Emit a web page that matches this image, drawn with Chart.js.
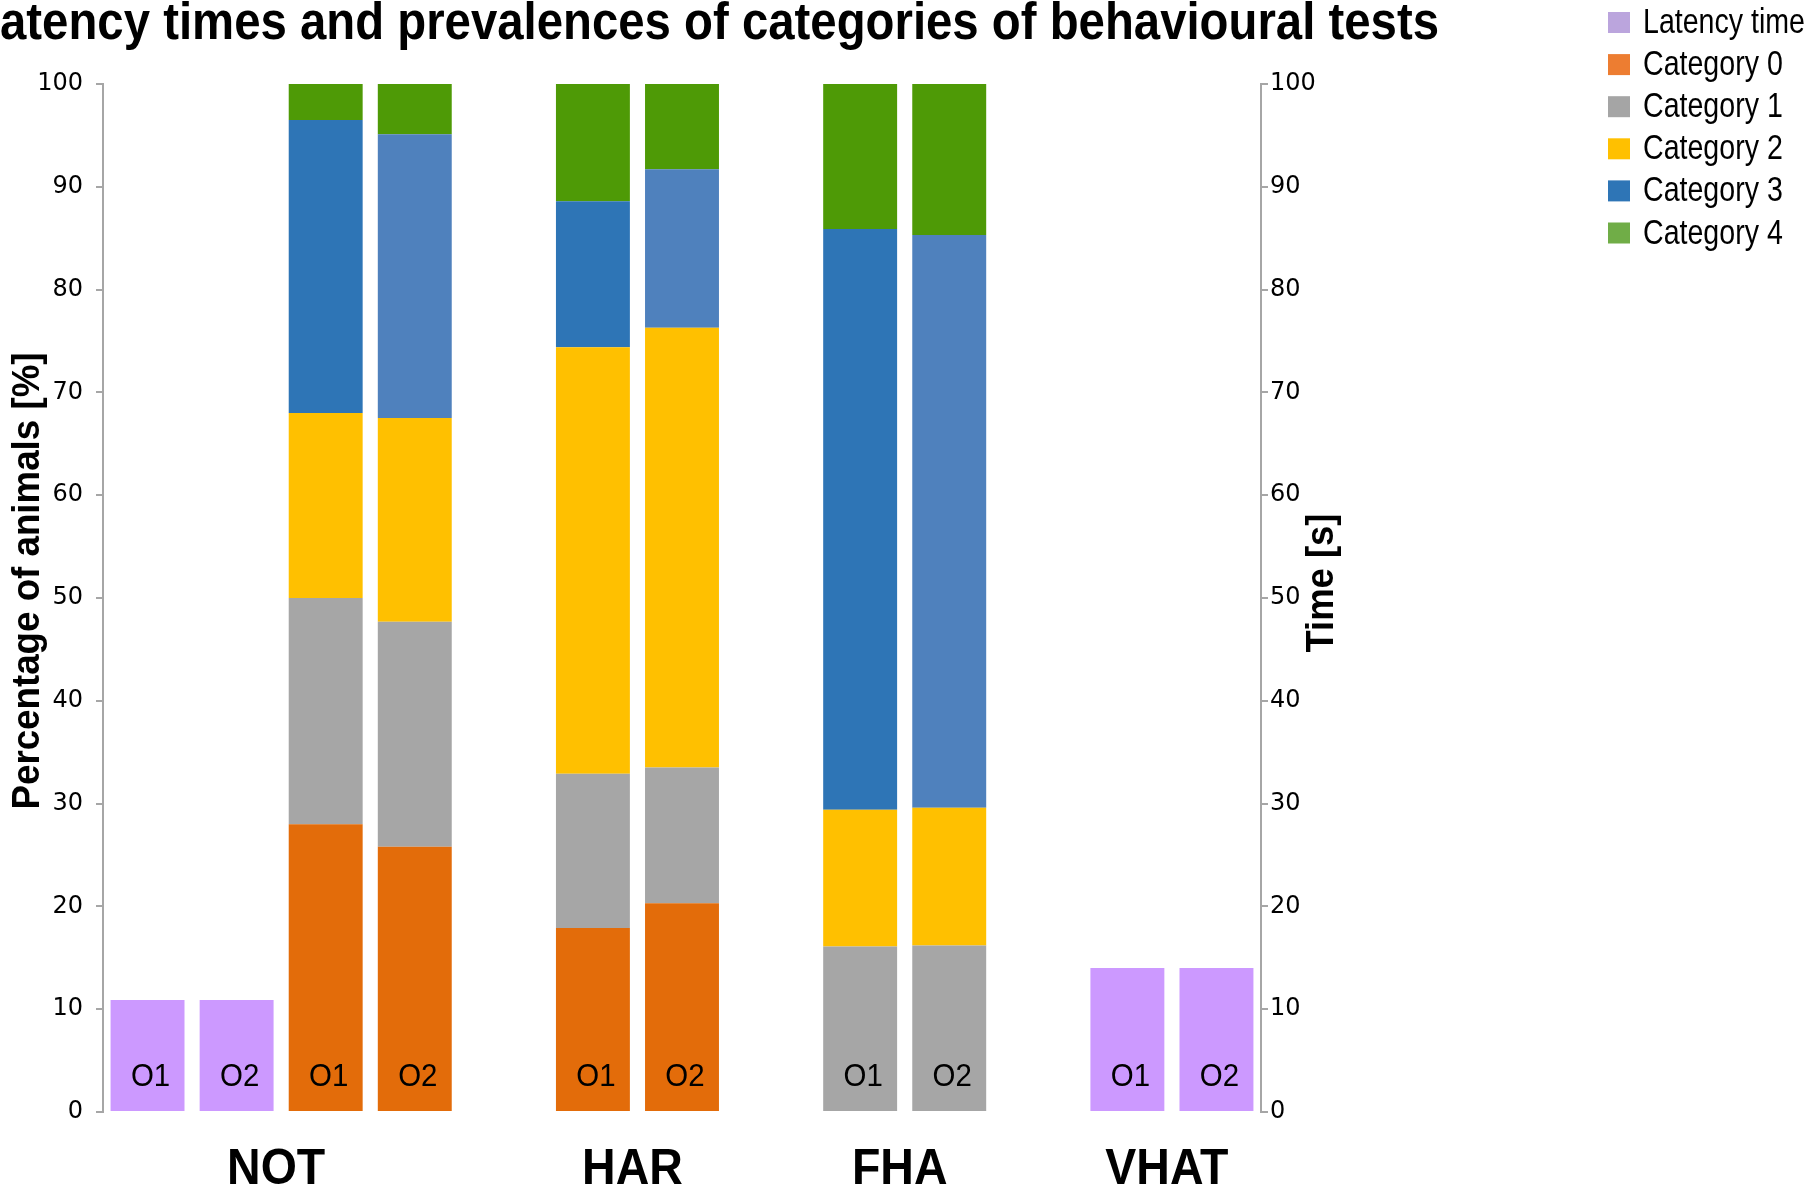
<!DOCTYPE html>
<html>
<head>
<meta charset="utf-8">
<script src="https://cdn.jsdelivr.net/npm/chart.js@4"></script>
<style>
    html, body { margin: 0; padding: 0; background: #fff; }
    #wrap { width: 1812px; height: 1187px; position: relative; }
</style>
</head>
<body>
<div id="wrap"><canvas id="chart"></canvas></div>
<script>
/* global Chart */
const slotLabels = ['O1', 'O2', 'O1', 'O2', '', 'O1', 'O2', '', 'O1', 'O2', '', 'O1', 'O2'];

const groups = ['NOT', 'HAR', 'FHA', 'VHAT'];
const groupFirst = [0, 5, 8, 11];
const groupLast = [3, 6, 9, 12];

// latency time [s] (right axis)
const latency = [10.9, 10.9, null, null, null, null, null, null, null, null, null, 14.0, 14.0];

// percentage of animals per category (left axis)
const cat0 = [null, null, 28.0, 25.8, null, 17.9, 20.3, null, 0, 0, null, null, null];
const cat1 = [null, null, 22.0, 21.9, null, 15.0, 13.2, null, 16.1, 16.2, null, null, null];
const cat2 = [null, null, 18.0, 19.8, null, 41.5, 42.8, null, 13.3, 13.4, null, null, null];
const cat3 = [null, null, 28.5, 27.6, null, 14.2, 15.4, null, 56.5, 55.7, null, null, null];
const cat4 = [null, null, 3.5, 4.9, null, 11.4, 8.3, null, 14.1, 14.7, null, null, null];

const legendNames = ['Latency time', 'Category 0', 'Category 1', 'Category 2', 'Category 3', 'Category 4'];
const legendColors = ['#BBA5DD', '#ED7D31', '#A5A5A5', '#FFC000', '#2E75B6', '#70AD47'];

const FONT = '"Liberation Sans", Arial, sans-serif';
const TICK_FONT = '"DejaVu Sans", sans-serif';

const cat3Colors = slotLabels.map(l => (l === 'O1' ? '#2E75B6' : '#4F81BD'));

// draw text squeezed horizontally by factor sx
function squeezed(ctx, text, x, y, sx) {
    ctx.save();
    ctx.translate(x, y);
    ctx.scale(sx, 1);
    ctx.fillText(text, 0, 0);
    ctx.restore();
}

const decorations = {
    id: 'decorations',
    afterDatasetsDraw(chart) {
        const ctx = chart.ctx;
        const x = chart.scales.x;

        // O1 / O2 labels inside the bars
        ctx.save();
        ctx.fillStyle = '#000';
        ctx.font = '32px ' + FONT;
        ctx.textAlign = 'center';
        ctx.textBaseline = 'middle';
        slotLabels.forEach((l, i) => {
            if (l) squeezed(ctx, l, x.getPixelForValue(i) + 3, 1077, 0.92);
        });

        // group names under the axis
        ctx.font = 'bold 50px ' + FONT;
        ctx.textBaseline = 'alphabetic';
        groups.forEach((g, k) => {
            const cx = (x.getPixelForValue(groupFirst[k]) + x.getPixelForValue(groupLast[k])) / 2 - 5;
            squeezed(ctx, g, cx, 1184, 0.93);
        });
        ctx.restore();
    },
    afterDraw(chart) {
        const ctx = chart.ctx;
        ctx.save();
        ctx.fillStyle = '#000';

        // title, cut off at the left edge
        const full = 'Latency times and prevalences of categories of behavioural tests';
        ctx.font = 'bold 51px ' + FONT;
        ctx.textAlign = 'right';
        const sx = 1439 / ctx.measureText(full.slice(1)).width;
        squeezed(ctx, full, 1439, 39, sx);

        // axis titles
        ctx.font = 'bold 38px ' + FONT;
        ctx.textAlign = 'center';
        ctx.textBaseline = 'middle';
        ctx.save();
        ctx.translate(29, 581);
        ctx.rotate(-Math.PI / 2);
        ctx.scale(457 / ctx.measureText('Percentage of animals [%]').width, 1);
        ctx.fillText('Percentage of animals [%]', 0, 0);
        ctx.restore();
        ctx.save();
        ctx.translate(1323, 583);
        ctx.rotate(-Math.PI / 2);
        ctx.scale(139 / ctx.measureText('Time [s]').width, 1);
        ctx.fillText('Time [s]', 0, 0);
        ctx.restore();

        // legend
        ctx.font = '35px ' + FONT;
        ctx.textAlign = 'left';
        ctx.textBaseline = 'alphabetic';
        const lx = 162 / ctx.measureText('Latency time').width;
        legendNames.forEach((name, i) => {
            const base = 33 + 42.1 * i;
            ctx.fillStyle = legendColors[i];
            ctx.fillRect(1608, base - 21, 22, 21);
            ctx.fillStyle = '#000';
            squeezed(ctx, name, 1643, base, lx);
        });
        ctx.restore();
    }
};

function bar(label, data, color, axis) {
    return {
        label: label,
        data: data,
        backgroundColor: color,
        borderWidth: 0,
        yAxisID: axis,
        barPercentage: 0.83,
        categoryPercentage: 1.0
    };
}

new Chart(document.getElementById('chart'), {
    type: 'bar',
    data: {
        labels: slotLabels,
        datasets: [
            bar('Latency time', latency, '#CC99FF', 'y1'),
            bar('Category 0', cat0, '#E36C0A', 'y'),
            bar('Category 1', cat1, '#A6A6A6', 'y'),
            bar('Category 2', cat2, '#FFC000', 'y'),
            bar('Category 3', cat3, cat3Colors, 'y'),
            bar('Category 4', cat4, '#4E9A06', 'y')
        ]
    },
    options: {
        responsive: true,
        maintainAspectRatio: false,
        animation: false,
        layout: { padding: { top: 84, left: 0, right: 0, bottom: 0 } },
        plugins: {
            legend: { display: false },
            title: { display: false },
            tooltip: { enabled: false }
        },
        scales: {
            x: {
                stacked: true,
                grid: { display: false },
                border: { display: false },
                ticks: { display: false },
                afterFit(scale) { scale.height = 75; }
            },
            y: {
                position: 'left',
                stacked: true,
                min: 0,
                max: 100,
                ticks: {
                    stepSize: 10,
                    color: '#000',
                    padding: 13,
                    font: { family: TICK_FONT, size: 24 }
                },
                grid: { drawOnChartArea: false, tickLength: 7, color: '#A6A6A6', lineWidth: 2 },
                border: { color: '#A6A6A6', width: 2 },
                afterFit(scale) { scale.width = 103; }
            },
            y1: {
                position: 'right',
                stacked: true,
                min: 0,
                max: 100,
                ticks: {
                    stepSize: 10,
                    color: '#000',
                    padding: 2,
                    font: { family: TICK_FONT, size: 24 }
                },
                grid: { drawOnChartArea: false, tickLength: 7, color: '#A6A6A6', lineWidth: 2 },
                border: { color: '#A6A6A6', width: 2 },
                afterFit(scale) { scale.width = 551; }
            }
        }
    },
    plugins: [decorations]
});
</script>
</body>
</html>
